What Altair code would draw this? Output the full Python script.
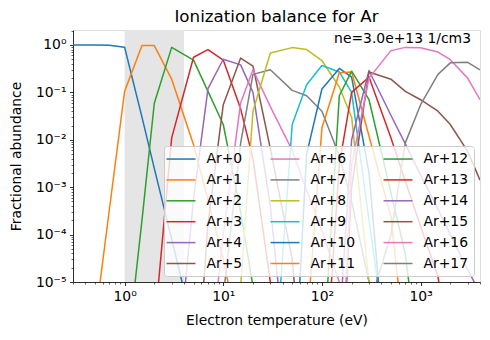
import altair as alt
import pandas as pd

N = None
temperature_ev = [0.3, 0.5, 0.7, 1, 1.5, 2, 3, 5, 7, 10, 15, 20, 30, 50, 70,
                  100, 150, 200, 300, 500, 700, 1000, 1500, 2000, 3000, 4000]

ar0 = [1.0, 1.0, 0.99, 0.9, 3e-2, 2.5e-3, 8e-5, 1e-6]
ar1 = [N, 1.4e-6, 3.3e-4, 0.105, 0.98, 0.97, 0.19, 7.9e-3, 5.4e-4, 3e-5, 5e-7]
ar2 = [N, N, N, 1e-7, 2e-4, 0.059, 0.89, 0.48, 0.105, 0.021, 3e-4, 8e-6, 1e-8]
ar3 = [N, N, N, N, N, 1e-6, 0.011, 0.55, 0.8, 0.48, 0.045, 4e-3, 1e-5, 1e-8]
ar4 = [N] * 6 + [1e-8, 5.7e-4, 0.12, 0.5, 0.38, 0.1, 4e-4, 1e-8]
ar5 = [N] * 7 + [1e-8, 1.7e-4, 0.055, 0.53, 0.36, 6.5e-3, 3e-5, 1e-8]
ar6 = [N] * 8 + [1e-7, 1e-4, 0.06, 0.3, 0.05, 6e-3, 8.5e-4, 1.2e-4, 1e-5, 1e-7]
ar7 = [N] * 9 + [5e-6, 8.5e-3, 0.24, 0.3, 0.11, 0.085, 0.04, 4.6e-3, 5e-4, 1e-5, 1e-8]
ar8 = [N] * 10 + [8e-6, 0.04, 0.68, 0.88, 0.8, 0.47, 0.13, 0.03, 1e-5, 1e-8]
ar9 = [N] * 12 + [1e-8, 0.021, 0.145, 0.37, 0.27, 0.1, 2e-4, 1e-7]
ar10 = [N] * 13 + [1e-8, 5e-3, 0.118, 0.32, 0.21, 2e-3, 1e-8]
ar11 = [N] * 14 + [1e-6, 0.018, 0.26, 0.27, 0.012, 2.4e-4, 4e-7]
ar12 = [N] * 15 + [1e-7, 0.085, 0.28, 0.07, 7.7e-4, 3.9e-5, 1e-7]
ar13 = [N] * 15 + [1e-8, 3e-3, 0.1, 0.21, 0.011, 1.35e-3, 1.5e-4, 1.3e-5, 3e-7]
ar14 = [N] * 16 + [1e-6, 0.01, 0.29, 0.033, 8.2e-3, 1.8e-3, 3.5e-4, 1e-4, 1.8e-5, 6e-6]
ar15 = [N] * 16 + [1e-8, 1e-3, 0.27, 0.19, 0.105, 0.07, 0.04, 0.021, 5.7e-3, 1.4e-3]
ar16 = [N] * 16 + [1e-8, 3e-3, 0.2, 0.76, 0.89, 0.87, 0.71, 0.49, 0.2, 0.07]
ar17 = [N] * 18 + [3e-6, 1e-4, 8.6e-3, 0.055, 0.24, 0.42, 0.43, 0.3]

series = [ar0, ar1, ar2, ar3, ar4, ar5, ar6, ar7, ar8, ar9,
          ar10, ar11, ar12, ar13, ar14, ar15, ar16, ar17]
ion_names = [f"Ar+{i}" for i in range(18)]
tab10 = ["#1f77b4", "#ff7f0e", "#2ca02c", "#d62728", "#9467bd",
         "#8c564b", "#e377c2", "#7f7f7f", "#bcbd22", "#17becf"]
ion_colors = [tab10[i % 10] for i in range(18)]

band_start = [1.0]
band_end = [4.0]
density_note = ["ne=3.0e+13 1/cm3"]

rows = []
for name, vals in zip(ion_names, series):
    for t, v in zip(temperature_ev, vals):
        if v is not None:
            rows.append({"T": t, "frac": v, "ion": name})
df = pd.DataFrame(rows)

FONT = "DejaVu Sans"
W, H = 407, 252
XMIN, XMAX = 0.3, 4000
YMIN, YMAX = 1e-5, 2.07

sup = "['⁻⁵','⁻⁴','⁻³','⁻²','⁻¹','⁰','¹','²','³','⁴']"
is_dec = "abs(log(datum.value)/LN10 - round(log(datum.value)/LN10)) < 1e-6"
lab_expr = f"({is_dec}) ? '10' + {sup}[round(log(datum.value)/LN10) + 5] : ''"

x_ticks = [m * 10 ** e for e in range(-1, 4) for m in range(1, 10)
           if XMIN - 1e-9 <= m * 10 ** e <= XMAX + 1e-9]
y_ticks = [m * 10 ** e for e in range(-5, 1) for m in range(1, 10)
           if YMIN - 1e-12 <= m * 10 ** e <= YMAX]

x_scale = alt.Scale(type="log", domain=[XMIN, XMAX], nice=False)
y_scale = alt.Scale(type="log", domain=[YMIN, YMAX], nice=False)

def make_axis(title, values, orient):
    return alt.Axis(
        title=title, values=values, labelExpr=lab_expr, grid=False,
        orient=orient, labelOverlap=False, labelFlush=False,
        tickSize={"condition": {"test": is_dec, "value": 3.5}, "value": 2},
        tickWidth={"condition": {"test": is_dec, "value": 0.8}, "value": 0.6},
        tickColor="black", domainColor="black", domainWidth=0.8,
        labelColor="black", titleColor="black",
        labelFont=FONT, titleFont=FONT, labelFontSize=13.9, titleFontSize=13.9,
        titleFontWeight="normal", labelPadding=3.5,
        titlePadding=11 if orient == "bottom" else 12,
    )

band = alt.Chart(pd.DataFrame({"x0": band_start, "x1": band_end})).mark_rect(
    color="#e5e5e5", opacity=1
).encode(
    x=alt.X("x0:Q", scale=x_scale, axis=make_axis("Electron temperature (eV)", x_ticks, "bottom")),
    x2="x1:Q",
)

lines = alt.Chart(df).mark_line(strokeWidth=1.5, clip=True, strokeJoin="round").encode(
    x=alt.X("T:Q", scale=x_scale),
    y=alt.Y("frac:Q", scale=y_scale, axis=make_axis("Fractional abundance", y_ticks, "left")),
    color=alt.Color(
        "ion:N",
        scale=alt.Scale(domain=ion_names, range=ion_colors),
        legend=alt.Legend(
            title=None, orient="bottom-right", offset=6, direction="vertical",
            columns=3, columnPadding=24, rowPadding=5.9, gridAlign="each",
            symbolType="M-2,0L2,0", symbolSize=210, symbolStrokeWidth=1.5,
            symbolOffset=4, labelOffset=17.5,
            labelFont=FONT, labelFontSize=13.9, labelColor="black",
            fillColor="rgba(255,255,255,0.8)", strokeColor="#cccccc",
            cornerRadius=3, padding=5, labelLimit=200,
        ),
    ),
    detail="ion:N",
)

note = alt.Chart(pd.DataFrame({"t": density_note})).mark_text(
    align="right", baseline="alphabetic", font=FONT, fontSize=13.9, color="black"
).encode(
    text="t:N", x=alt.value(W - 9), y=alt.value(12.7)
)

chart = alt.layer(band, lines, note).properties(
    width=W, height=H,
    title=alt.Title("Ionization balance for Ar", font=FONT, fontSize=16.7,
                    fontWeight="normal", color="black", anchor="middle", offset=-2),
    padding={"left": 65, "top": 22, "right": 2, "bottom": 50},
    autosize=alt.AutoSizeParams(type="none"),
).configure_view(stroke="black", strokeWidth=0.8).configure(font=FONT)

chart.save("out.html", embed_options={"renderer": "svg", "actions": False})
